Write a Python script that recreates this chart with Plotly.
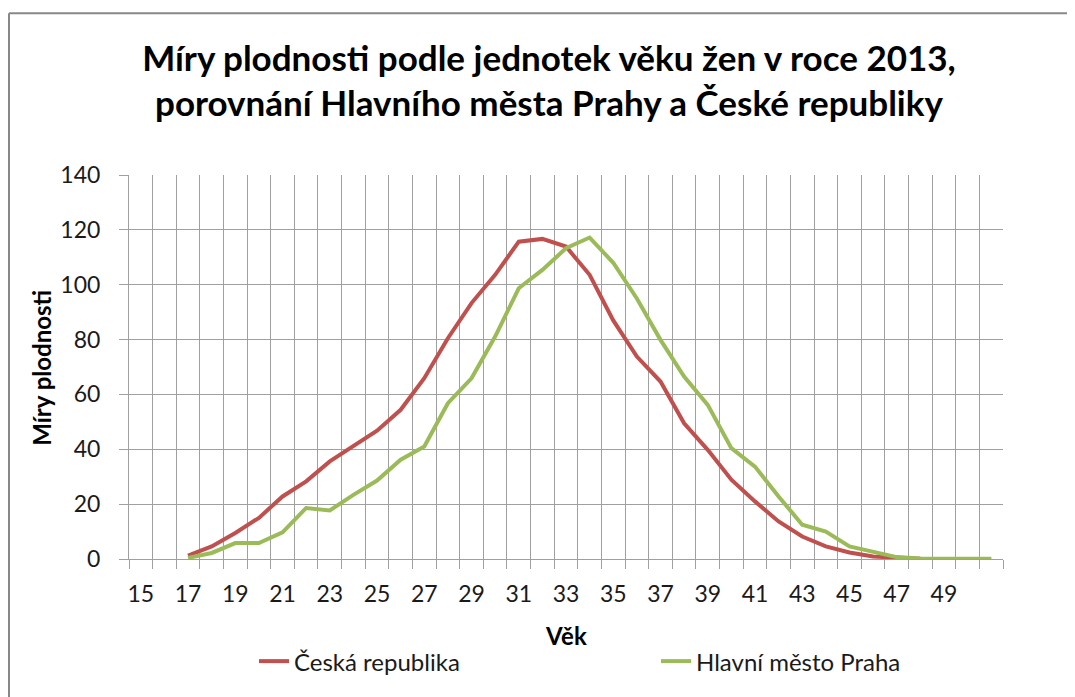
import plotly.graph_objects as go

# vek zen (kategorie osy x) a hodnoty mer plodnosti
ages = list(range(15, 52))
ages_data = list(range(17, 52))
cr_values = [1.2, 4.6, 9.5, 15.0, 22.8, 28.3, 35.6, 41.0, 46.8, 54.4,
             65.9, 80.5, 93.3, 103.6, 115.7, 116.7, 113.9, 103.6, 87.0, 73.8,
             64.7, 49.5, 39.8, 28.9, 21.0, 13.7, 8.2, 4.6, 2.4, 0.9,
             0.4, 0.1, 0.0, 0.0, 0.0]
praha_values = [0.4, 2.2, 5.8, 5.8, 9.7, 18.6, 17.7, 23.4, 28.6, 36.2,
                41.0, 56.8, 65.9, 81.1, 98.7, 105.4, 113.3, 117.2, 108.0, 95.0,
                79.9, 66.5, 56.2, 40.4, 33.7, 22.8, 12.5, 10.0, 4.6, 2.8,
                0.7, 0.2, 0.1, 0.1, 0.1]
tick_labels = [str(a) for a in range(15, 50, 2)]

FONT = "Lato"
GRID = "#a0a0a0"
TEXT = "#1a1a1a"
BORDER = "#888888"

fig = go.Figure()
fig.add_trace(go.Scatter(x=ages_data, y=cr_values, mode="lines",
                         name="Česká republika", legend="legend",
                         showlegend=True,
                         line=dict(color="#C0504D", width=4)))
fig.add_trace(go.Scatter(x=ages_data, y=praha_values, mode="lines",
                         name="Hlavní město Praha", legend="legend2",
                         showlegend=True,
                         line=dict(color="#9BBB59", width=4)))

# svisla mrizka lezi na hranicich kategorii
boundaries = [a - 0.5 for a in ages] + [ages[-1] + 0.5]

fig.update_xaxes(
    range=[ages[0] - 0.5, ages[-1] + 0.5],
    tickmode="array",
    tickvals=[int(t) for t in tick_labels],
    ticktext=tick_labels,
    showgrid=False,
    ticks="",
    ticklabelstandoff=14,
    tickfont=dict(family=FONT, size=23, color=TEXT),
    showline=True, linecolor=GRID, linewidth=1,
    zeroline=False,
    minor=dict(tickmode="array", tickvals=boundaries, showgrid=True,
               gridcolor=GRID, gridwidth=1, ticks="outside", ticklen=9,
               tickcolor=GRID, tickwidth=1),
)
fig.update_yaxes(
    range=[0, 140], dtick=20,
    showgrid=True, gridcolor=GRID, gridwidth=1,
    ticks="outside", ticklen=9, tickcolor=GRID,
    ticklabelstandoff=14,
    tickfont=dict(family=FONT, size=23, color=TEXT),
    showline=True, linecolor=GRID, linewidth=1,
    zeroline=False,
)

legend_style = dict(orientation="h", y=-0.267, xanchor="left",
                    yanchor="middle", bgcolor="rgba(0,0,0,0)",
                    font=dict(family=FONT, size=24, color=TEXT))

fig.update_layout(
    width=1067, height=689,
    margin=dict(l=121, r=72, t=167, b=138),
    paper_bgcolor="white", plot_bgcolor="white",
    font=dict(family=FONT, color=TEXT),
    showlegend=True,
    title=dict(
        text="<b>Míry plodnosti podle jednotek věku žen v roce 2013,<br>"
             "porovnání Hlavního města Prahy a České republiky</b>",
        x=0.507, xanchor="center", y=0.909, yanchor="middle",
        font=dict(family=FONT, size=35, color="black"),
    ),
    legend=dict(x=0.143, **legend_style),
    legend2=dict(x=0.603, **legend_style),
    annotations=[
        dict(text="<b>Míry plodnosti</b>", xref="paper", yref="paper",
             x=-0.0995, y=0.498, xanchor="center", yanchor="middle",
             textangle=-90, showarrow=False,
             font=dict(family=FONT, size=24, color="black")),
        dict(text="<b>Věk</b>", xref="paper", yref="paper",
             x=0.5, y=-0.1996, xanchor="center", yanchor="middle",
             showarrow=False,
             font=dict(family=FONT, size=24, color="black")),
    ],
    # okraj grafu: jen horni a leva hrana jsou v obrazku videt
    shapes=[
        dict(type="line", xref="paper", yref="paper",
             x0=-0.1373, x1=1.2, y0=1.4215, y1=1.4215,
             line=dict(color=BORDER, width=2), layer="below"),
        dict(type="line", xref="paper", yref="paper",
             x0=-0.1373, x1=-0.1373, y0=-0.6, y1=1.4215,
             line=dict(color=BORDER, width=2), layer="below"),
    ],
)

fig.write_html("out.html")
